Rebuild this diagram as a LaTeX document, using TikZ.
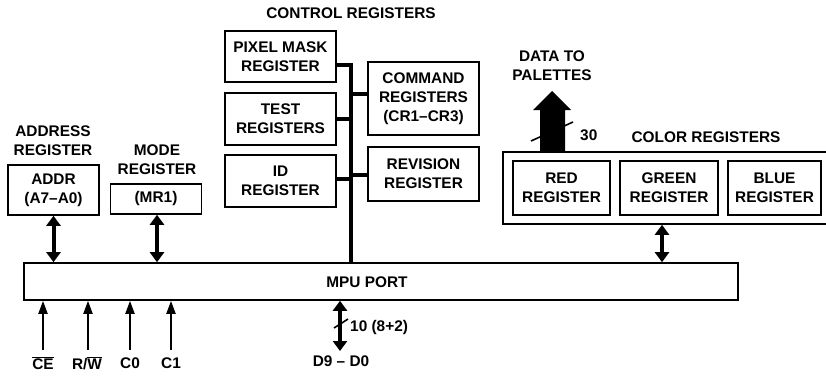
\documentclass[tikz,border=0pt]{standalone}
\usepackage{fontspec}
\setmainfont{Liberation Sans}
\usetikzlibrary{arrows.meta}
\begin{document}
\begin{tikzpicture}[x=1pt,y=-1pt,
  every node/.style={font=\fontsize{15.4}{19}\selectfont\bfseries, inner sep=0pt, align=center},
  regbox/.style={draw, line width=1.6pt, minimum width=#1},
  regbox/.default=111pt,
  bus/.style={line width=4pt},
  dbl/.style={line width=4pt, {Triangle[width=14pt,length=10pt]}-{Triangle[width=14pt,length=10pt]}},
  sig/.style={line width=2pt, -{Triangle[width=9pt,length=13pt]}},
  slash/.style={line width=1.6pt}]
\useasboundingbox (0,0) rectangle (826,376);
% MPU port
\node[regbox=714pt, minimum height=37pt] (mpu) at (381,281.5) {};
\node (mputext) at (367,282) {MPU PORT};
% address / mode
\node (addrlbl) at (53,140.5) {ADDRESS\\REGISTER};
\node[regbox=91pt, minimum height=50pt] (addr) at (53.5,190) {ADDR\\(A7--A0)};
\node (modelbl) at (157,159.5) {MODE\\REGISTER};
\node[regbox=91pt, minimum height=30pt] (mode) at (156,199) {(MR1)};
% control registers
\node (ctrllbl) at (351,13) {CONTROL REGISTERS};
\node[regbox, minimum height=51pt] (pix) at (280.5,56.5) {PIXEL MASK\\REGISTER};
\node[regbox, minimum height=52pt] (test) at (280.5,119) {TEST\\REGISTERS};
\node[regbox, minimum height=52pt] (id) at (280.5,181) {ID\\REGISTER};
\node[regbox, minimum height=73pt] (cmd) at (423.5,98.5) {COMMAND\\REGISTERS\\(CR1--CR3)};
\node[regbox, minimum height=54pt] (rev) at (423.5,174) {REVISION\\REGISTER};
\coordinate (bustop) at (351,65);
\draw[bus] (pix.east |- bustop) -- (bustop) -- (bustop |- mpu.north);
\draw[bus] (test.east) -- (test.east -| bustop);
\draw[bus] ([yshift=2pt]id.east) -- ([yshift=2pt]id.east -| bustop);
\draw[bus] ([yshift=4.5pt]cmd.west) -- ([yshift=4.5pt]cmd.west -| bustop);
\draw[bus] ([yshift=-1pt]rev.west) -- ([yshift=-1pt]rev.west -| bustop);
% color registers
\node (colorlbl) at (706,137) {COLOR REGISTERS};
\node[regbox=326pt, minimum height=72pt] (colorbox) at (666,188) {};
\node[regbox=97pt, minimum height=54pt] (red) at (561.5,188) {RED\\REGISTER};
\node[regbox=98pt, minimum height=54pt] (green) at (669,188) {GREEN\\REGISTER};
\node[regbox=93pt, minimum height=54pt] (blue) at (774.5,188) {BLUE\\REGISTER};
% data to palettes
\node (datalbl) at (552,66) {DATA TO\\PALETTES};
\coordinate (dbase) at (552.5,152);
\fill ([xshift=-12.5pt]dbase) -- ++(0,-42) -- ++(-7,0) -- (552,91) -- (571,110) -- (565,110) -- ([xshift=12.5pt]dbase) -- cycle;
\coordinate (s30a) at (531,141);
\coordinate (s30b) at (573,122);
\draw[slash] (s30a) -- (s30b);
\node[anchor=west] (n30) at (580,135) {30};
% connectors to MPU
\draw[dbl] (addr.south) -- (addr.south |- mpu.north);
\draw[dbl] ([xshift=1pt]mode.south) -- ([xshift=1pt]mode.south |- mpu.north);
\draw[dbl] ([xshift=-4pt]colorbox.south) -- ([xshift=-4pt]colorbox.south |- mpu.north);
% bottom signals
\node (ce) at (43,363) {\(\overline{\hbox{CE}}\)};
\node (rw) at (87,363) {R/\(\overline{\hbox{W}}\)};
\node (c0) at (130,363) {C0};
\node (c1) at (171,363) {C1};
\coordinate (cee) at (43,350);
\coordinate (rwe) at (88,350);
\coordinate (c0e) at (130,350);
\coordinate (c1e) at (171,350);
\draw[sig] (cee) -- (cee |- mpu.south);
\draw[sig] (rwe) -- (rwe |- mpu.south);
\draw[sig] (c0e) -- (c0e |- mpu.south);
\draw[sig] (c1e) -- (c1e |- mpu.south);
\coordinate (de) at (340,351);
\draw[dbl] (de |- mpu.south) -- (de);
\coordinate (dsa) at (334,328);
\coordinate (dsb) at (348,319);
\draw[slash] (dsa) -- (dsb);
\node[anchor=west] (dw) at (350,328) {10 (8+2)};
\node (dlbl) at (341,361) {D9 -- D0};
\end{tikzpicture}
\end{document}
